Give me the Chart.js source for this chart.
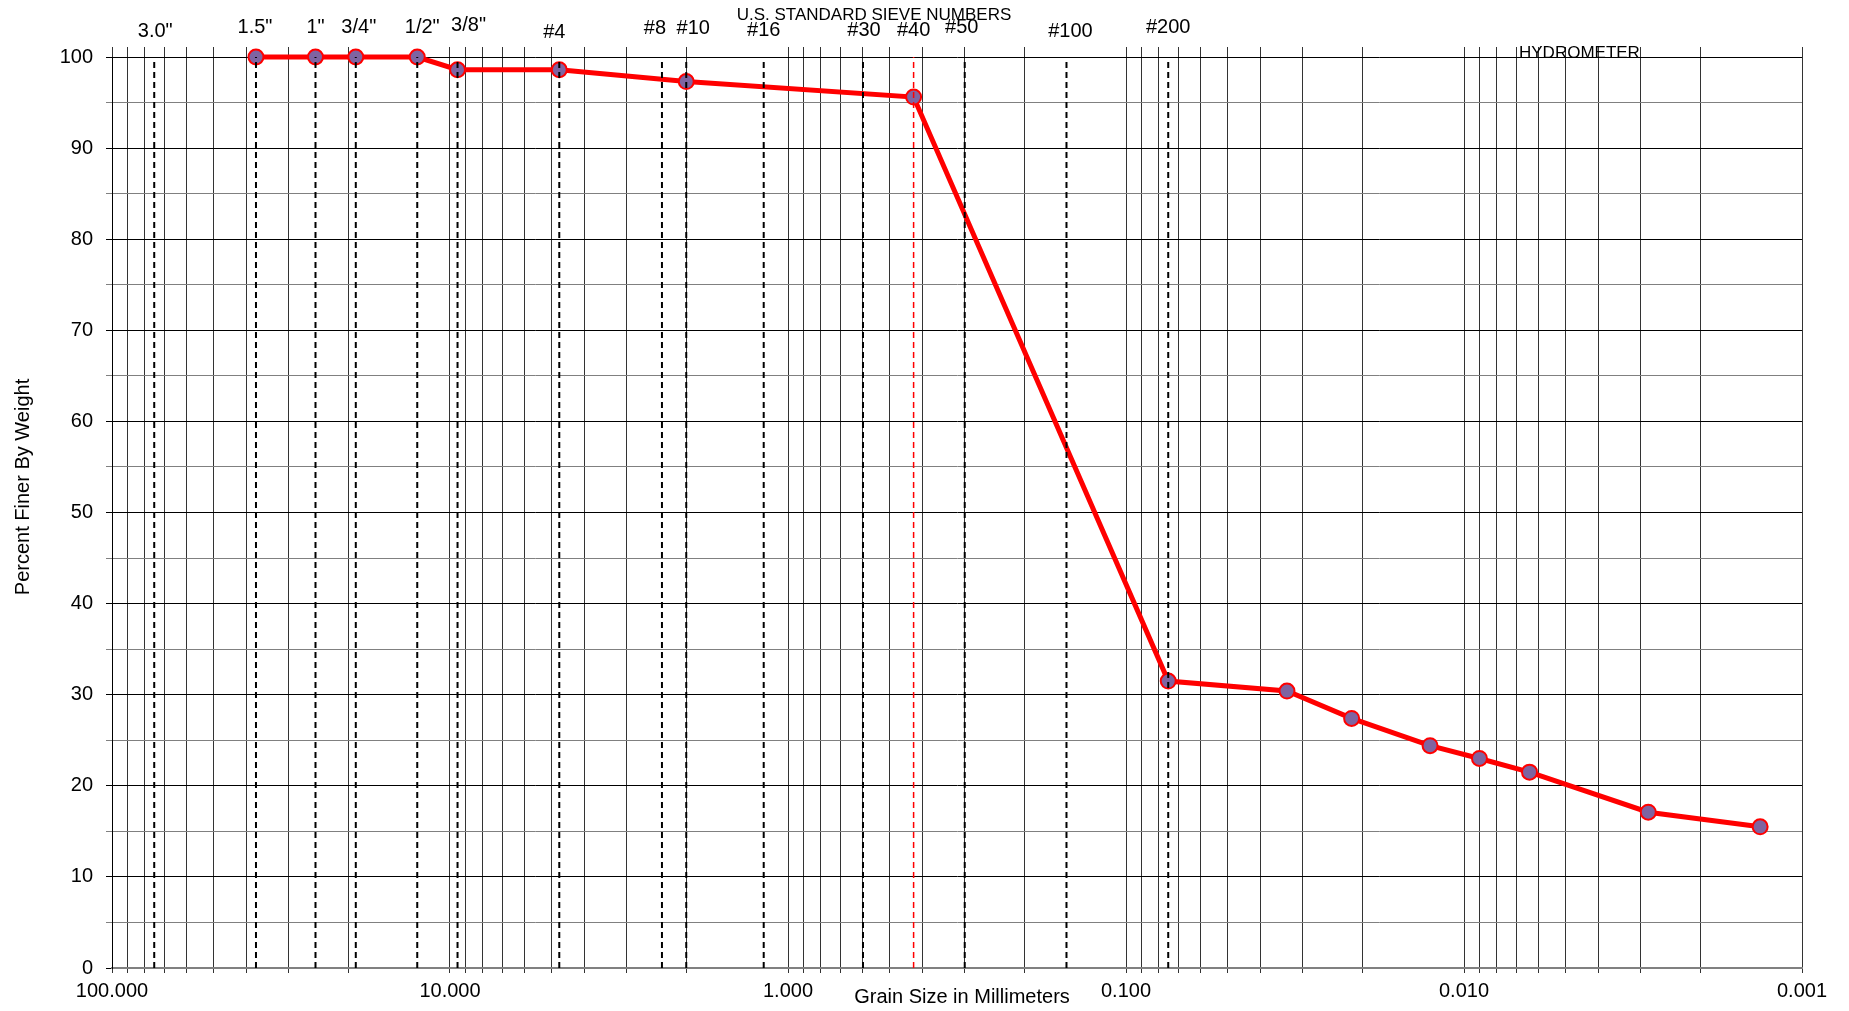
<!DOCTYPE html>
<html lang="en">
<head>
    <meta charset="utf-8">
    <title>Grain Size Distribution</title>
    <style>
        * {
            padding: 0;
            margin: 0;
            box-sizing: border-box;
        }
        body {
            background: #ffffff;
            overflow: hidden;
        }
        #chart {
            display: block;
        }
    </style>
</head>
<body>
    <canvas id="chart" width="1849" height="1011"></canvas>

    <script src="https://cdn.jsdelivr.net/npm/chart.js@4.4.1/dist/chart.umd.min.js"></script>
    <script>
        // Sieve openings (mm) and their names
        const sieveNames = ['3.0"', '1.5"', '1"', '3/4"', '1/2"', '3/8"', '#4', '#8', '#10', '#16', '#30', '#40', '#50', '#100', '#200'];
        const sieveSizes = [75, 37.5, 25, 19, 12.5, 9.5, 4.75, 2.36, 2.0, 1.18, 0.6, 0.425, 0.3, 0.15, 0.075];

        // Test results: grain size (mm) and percent finer
        const grainSizes = [37.5, 25, 19, 12.5, 9.5, 4.75, 2.0, 0.425, 0.075, 0.0334, 0.0215, 0.0126, 0.0090, 0.0064, 0.00285, 0.00133];
        const percentFiner = [100, 100, 100, 100, 98.6, 98.6, 97.3, 95.6, 31.5, 30.4, 27.4, 24.4, 23.0, 21.5, 17.1, 15.5];

        // Axis ticks
        const xDecades = [100, 10, 1, 0.1, 0.01, 0.001];
        const yTicks = [0, 10, 20, 30, 40, 50, 60, 70, 80, 90, 100];

        // label placement (dx, center y) for the sieve names, same order as sieveNames
        const sieveLabelPos = [
            [1, 31], [-1, 27], [0, 27], [3, 27], [5, 27], [11, 25], [-5, 32],
            [-7, 28], [7, 28], [0, 30], [1, 30], [0, 30], [-3, 27], [4, 31], [0, 27]
        ];

        const FONT = "'Liberation Sans', Arial, sans-serif";

        // every 1..9 multiple inside each decade
        const gridValues = [];
        for (let p = -3; p <= 1; p++) {
            for (let m = 1; m <= 9; m++) {
                gridValues.push(parseFloat((m * Math.pow(10, p)).toPrecision(6)));
            }
        }
        gridValues.push(100);

        const setXTicks = (scale) => {
            scale.ticks = gridValues.map(v => ({ value: v, major: xDecades.includes(v) }));
        };

        const sieveDatasets = sieveSizes.map((s, i) => ({
            label: sieveNames[i],
            data: [{ x: s, y: 0 }, { x: s, y: 100 }],
            borderColor: sieveNames[i] === '#40' ? '#ff0000' : '#000000',
            borderWidth: sieveNames[i] === '#40' ? 1.5 : 2,
            borderDash: [6, 4],
            pointRadius: 0,
            order: 0,
        }));

        const textPlugin = {
            id: 'sieveText',
            afterDraw(chart) {
                const ctx = chart.ctx;
                const x = chart.scales.x;
                ctx.save();
                ctx.fillStyle = '#000000';
                ctx.textAlign = 'center';
                ctx.textBaseline = 'middle';
                ctx.font = `20px ${FONT}`;
                sieveSizes.forEach((s, i) => {
                    const px = x.getPixelForValue(s) + sieveLabelPos[i][0];
                    ctx.fillText(sieveNames[i], px, sieveLabelPos[i][1]);
                });
                ctx.font = `17px ${FONT}`;
                ctx.fillText('U.S. STANDARD SIEVE NUMBERS', 874, 15);
                ctx.textAlign = 'left';
                ctx.fillText('HYDROMETER', 1519, 53);

                ctx.font = `20px ${FONT}`;
                ctx.textAlign = 'center';
                ctx.fillText('Grain Size in Millimeters', 962, 997);
                ctx.translate(23, 487);
                ctx.rotate(-Math.PI / 2);
                ctx.fillText('Percent Finer By Weight', 0, 0);
                ctx.restore();
            }
        };

        new Chart(document.getElementById('chart'), {
            type: 'line',
            plugins: [textPlugin],
            data: {
                datasets: [
                    ...sieveDatasets,
                    {
                        label: 'Percent Finer',
                        data: grainSizes.map((g, i) => ({ x: g, y: percentFiner[i] })),
                        borderColor: '#ff0000',
                        borderWidth: 5,
                        tension: 0,
                        clip: false,
                        pointRadius: 7.5,
                        pointBackgroundColor: '#7f64a1',
                        pointBorderColor: '#ff0000',
                        pointBorderWidth: 2,
                        order: 1,
                    }
                ]
            },
            options: {
                responsive: false,
                animation: false,
                layout: { padding: { left: 0, right: 47, top: 47, bottom: 0 } },
                plugins: {
                    legend: { display: false },
                    tooltip: { enabled: false },
                },
                scales: {
                    x: {
                        type: 'logarithmic',
                        position: 'bottom',
                        reverse: true,
                        min: 0.001,
                        max: 100,
                        afterBuildTicks: setXTicks,
                        afterFit: (scale) => { scale.height = 43; },
                        grid: {
                            color: '#333333',
                            lineWidth: 1,
                            tickLength: 5,
                        },
                        border: { color: '#808080', width: 2 },
                        ticks: {
                            autoSkip: false,
                            maxRotation: 0,
                            padding: 6,
                            color: '#000000',
                            font: { family: FONT, size: 20 },
                            callback: (v) => xDecades.includes(v) ? v.toFixed(3) : '',
                        },
                    },
                    xTop: {
                        type: 'logarithmic',
                        position: 'top',
                        reverse: true,
                        min: 0.001,
                        max: 100,
                        afterBuildTicks: setXTicks,
                        afterFit: (scale) => { scale.height = 10; },
                        grid: {
                            color: '#333333',
                            drawOnChartArea: false,
                            tickLength: 10,
                        },
                        border: { display: false },
                        ticks: { display: false },
                    },
                    y: {
                        min: 0,
                        max: 100,
                        afterFit: (scale) => { scale.width = 112; },
                        grid: {
                            color: (c) => (c.tick && c.tick.value % 10 === 0) ? '#000000' : '#808080',
                            lineWidth: 1,
                            tickLength: 6,
                        },
                        border: { color: '#000000', width: 1 },
                        ticks: {
                            stepSize: 5,
                            padding: 13,
                            color: '#000000',
                            font: { family: FONT, size: 20 },
                            callback: (v) => yTicks.includes(v) ? String(v) : '',
                        },
                    },
                },
            },
        });
    </script>
</body>
</html>
